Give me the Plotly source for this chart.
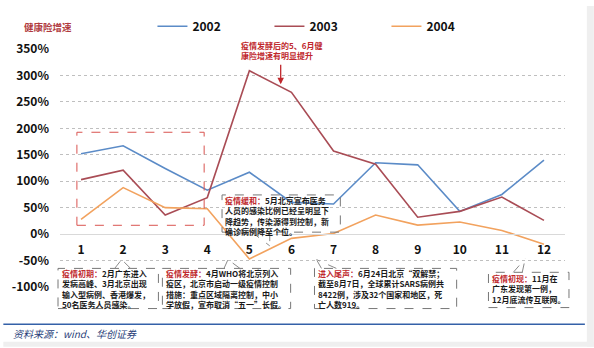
import plotly.graph_objects as go

months = list(range(1, 13))
y2002 = [152, 167, 124, 83, 117, 60, 57, 135, 131, 43, 75, 140]
y2003 = [103, 121, 36, 69, 309, 268, 157, 132, 32, 43, 70, 26]
y2004 = [28, 88, 50, 48, -47, -8, 1, 36, 17, 23, 7, -19]
ytick_vals = [-100, -50, 0, 50, 100, 150, 200, 250, 300, 350]
ytick_text = ["-100%", "-50%", "0%", "50%", "100%", "150%", "200%", "250%", "300%", "350%"]

W, H = 594, 348
L, R, T, B = 57, 29, 44, 61
PW, PH = W - L - R, H - T - B

def px(x):
    return (x - L) / PW

def py(y):
    return (H - B - y) / PH

FONT = "Noto Sans CJK SC"
RED = "#c0282d"
fig = go.Figure()
colors = {"2002": "#5b8bc7", "2003": "#a94c55", "2004": "#f2a25e"}
for name, ys in [("2002", y2002), ("2003", y2003), ("2004", y2004)]:
    fig.add_trace(go.Scatter(x=months, y=ys, mode="lines", name=f"<b>{name}</b>",
                             line=dict(color=colors[name], width=1.6)))

shapes = []
annotations = []

# dashed red box around months 1-4
shapes.append(dict(type="rect", xref="paper", yref="paper",
                   x0=px(74), x1=px(202), y0=py(224), y1=py(129),
                   line=dict(color="#d9534f", width=1, dash="dash")))

def box(x0, y0, x1, y1, tip, base):
    shapes.append(dict(type="rect", xref="paper", yref="paper",
                       x0=px(x0), x1=px(x1), y0=py(y1), y1=py(y0),
                       line=dict(color="#777777", width=1, dash="dash")))
    for b in base:
        shapes.append(dict(type="line", xref="paper", yref="paper",
                           x0=px(b[0]), y0=py(b[1]), x1=px(tip[0]), y1=py(tip[1]),
                           line=dict(color="#8a8a8a", width=1, dash="dash")))

def boxtext(x, y, lines_html, size=8):
    annotations.append(dict(xref="paper", yref="paper", x=px(x), y=py(y),
                            xanchor="left", yanchor="top", align="left",
                            showarrow=False, text=lines_html, borderpad=0,
                            font=dict(family=FONT, size=size, color="#1a1a1a")))

def red(s):
    return f"<span style='color:{RED}'><b>{s}</b></span>"

# box 1: 疫情初期
box(55, 268, 156, 309, (119, 259), [(112, 268), (128, 268)])
boxtext(58, 267, red("疫情初期：") + "<b>2月广东进入<br>发病高峰、3月北京出现<br>输入型病例、香港爆发，<br>50名医务人员感染。</b>")
# box 2: 疫情发酵
box(160, 268, 289, 309, (226, 259), [(222, 268), (238, 268)])
boxtext(163, 267, red("疫情发酵：") + "<b>4月WHO将北京列入<br>疫区，北京市启动一级疫情控制<br>措施：重点区域隔离控制，中小<br>学放假，宣布取消“五一”长假。</b>")
# box 3: 进入尾声
box(313, 268, 456, 309, (315, 259), [(320, 268), (335, 268)])
boxtext(316, 267, red("进入尾声：") + "<b>6月24日北京“双解禁；<br>截至8月7日，全球累计SARS病例共<br>8422例，涉及32个国家和地区，死<br>亡人数919。</b>")
# box 4: 疫情初现
box(488, 272, 569, 308, (525, 258), [(513, 272), (522, 272)])
boxtext(491, 272, red("疫情初现：") + "<b>11月在<br>广东发现第一例，<br>12月底流传互联网。</b>")
# middle box: 疫情缓和
box(220, 193, 339, 231, (268, 245), [(250, 231), (268, 231)])
boxtext(222, 192, red("疫情缓和：") + "<b>5月北京宣布医务<br>人员的感染比例已经呈明显下<br>降趋势，传染源得到控制，新<br>确诊病例降至个位。</b>")

# top annotation with arrow
annotations.append(dict(xref="paper", yref="paper", x=px(238), y=py(34),
                        xanchor="left", yanchor="top", align="left", showarrow=False,
                        borderpad=0,
                        text="<b>疫情发酵后的5、6月健<br>康险增速有明显提升</b>",
                        font=dict(family=FONT, size=8, color=RED)))
annotations.append(dict(xref="paper", yref="paper", x=px(279), y=py(80),
                        ax=0, ay=-21, showarrow=True, arrowhead=2, arrowsize=1,
                        arrowwidth=1.3, arrowcolor=RED, text=""))

# y-axis title
annotations.append(dict(xref="paper", yref="paper", x=px(19), y=py(22),
                        xanchor="left", yanchor="middle", showarrow=False,
                        text="<b>健康险增速</b>",
                        font=dict(family=FONT, size=9.5, color="#b03a3e")))
# source
annotations.append(dict(xref="paper", yref="paper", x=px(8), y=py(334),
                        xanchor="left", yanchor="middle", showarrow=False,
                        text="<i>资料来源：wind、华创证券</i>",
                        font=dict(family=FONT, size=10, color="#2a3f7a")))
shapes.append(dict(type="line", xref="paper", yref="paper",
                   x0=px(0), x1=px(585), y0=py(325), y1=py(325),
                   line=dict(color="#3461a8", width=1.6)))
# right and bottom grey strips
shapes.append(dict(type="rect", xref="paper", yref="paper",
                   x0=px(587), x1=px(594), y0=py(348), y1=py(0),
                   line=dict(width=0), fillcolor="#efefef", layer="below"))
shapes.append(dict(type="rect", xref="paper", yref="paper",
                   x0=px(0), x1=px(594), y0=py(348), y1=py(343),
                   line=dict(width=0), fillcolor="#efefef", layer="below"))

fig.update_layout(
    width=W, height=H,
    margin=dict(l=L, r=R, t=T, b=B),
    paper_bgcolor="white", plot_bgcolor="white",
    font=dict(family=FONT, color="#111111"),
    showlegend=True,
    legend=dict(orientation="h", x=px(150), y=py(6), xanchor="left", yanchor="top",
                font=dict(family=FONT, size=12, color="#111111"),
                entrywidth=72, entrywidthmode="pixels", itemwidth=30,
                bgcolor="rgba(0,0,0,0)"),
    xaxis=dict(range=[0.5, 12.5], tickmode="array", tickvals=months,
               ticktext=[f"<b>{m}</b>" for m in months], showgrid=False, zeroline=False,
               anchor="free", position=py(233), showline=True, linecolor="#d9d9d9",
               linewidth=1, ticks="", ticklabelstandoff=4,
               tickfont=dict(family=FONT, size=12, color="#111111")),
    yaxis=dict(range=[-100, 350], tickmode="array", tickvals=ytick_vals,
               ticktext=[f"<b>{t}</b>" for t in ytick_text],
               showgrid=True, gridcolor="#bfbfbf", griddash="dot", gridwidth=1,
               zeroline=False, ticks="", ticklabelstandoff=10,
               tickfont=dict(family=FONT, size=12, color="#111111")),
    shapes=shapes, annotations=annotations,
)
fig.write_html("out.html")
